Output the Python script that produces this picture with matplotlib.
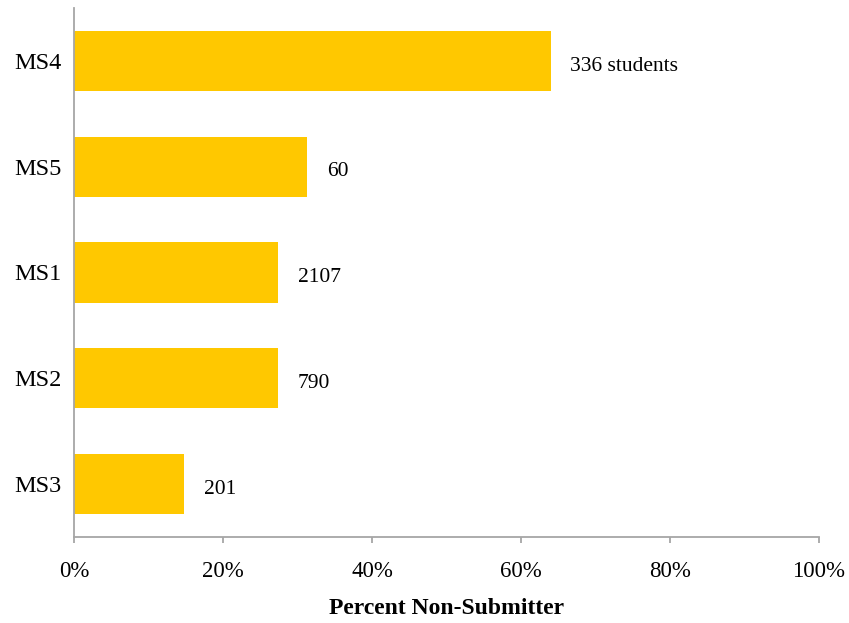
import matplotlib.pyplot as plt
import numpy as np

plt.rcParams['font.family'] = ['Liberation Serif', 'DejaVu Serif']

schools = ['MS4', 'MS5', 'MS1', 'MS2', 'MS3']
pct_non_submitter = [64.0, 31.3, 27.4, 27.4, 14.8]
counts = ['336 students', '60', '2107', '790', '201']
xticks = [0, 20, 40, 60, 80, 100]

fig = plt.figure(figsize=(8.49, 6.23), dpi=100)
ax = fig.add_axes([74/849, 86/623, 745/849, 529/623])

y = np.arange(len(schools))
ax.barh(y, pct_non_submitter, height=0.57, color='#FFC800')
for yi, val, lab in zip(y, pct_non_submitter, counts):
    ax.annotate(lab, (val, yi), xytext=(14, -2), textcoords='offset points',
                va='center_baseline', ha='left', fontsize=15.5)

ax.set_ylim(len(schools) - 0.5, -0.5)
ax.set_xlim(0, 100)
ax.set_yticks(y)
ax.set_yticklabels(schools, fontsize=17.5, va='center_baseline')
ax.set_xticks(xticks)
ax.set_xticklabels([f'{t}%' for t in xticks], fontsize=16.5)
ax.tick_params(axis='y', length=0, pad=9)
ax.tick_params(axis='x', length=4.5, width=1.3, color='#A6A6A6', pad=12.5)
for s in ['top', 'right']:
    ax.spines[s].set_visible(False)
for s in ['left', 'bottom']:
    ax.spines[s].set_color('#A6A6A6')
    ax.spines[s].set_linewidth(1.3)

ax.set_xlabel('Percent Non-Submitter', fontsize=17, fontweight='bold', labelpad=12)

fig.savefig('out.png', dpi=100)
